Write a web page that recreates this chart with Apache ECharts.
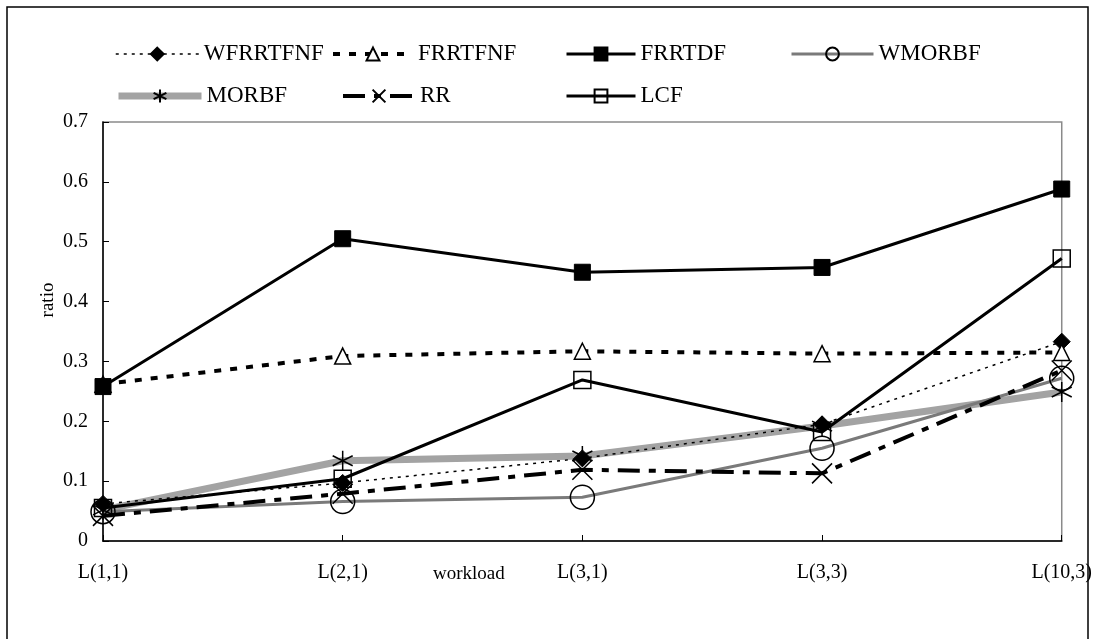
<!DOCTYPE html>
<html>
<head>
<meta charset="utf-8">
<script src="https://cdn.jsdelivr.net/npm/echarts@6/dist/echarts.min.js"></script>
<style>
html,body{margin:0;padding:0;background:#fff;}
#chart{width:1095px;height:639px;}
</style>
</head>
<body>
<div id="chart"></div>
<script>
const categories = ['L(1,1)', 'L(2,1)', 'L(3,1)', 'L(3,3)', 'L(10,3)'];
const yTicks = [0, 0.1, 0.2, 0.3, 0.4, 0.5, 0.6, 0.7];
const WFRRTFNF = [0.062, 0.097, 0.138, 0.195, 0.333];
const FRRTFNF  = [0.262, 0.309, 0.317, 0.313, 0.315];
const FRRTDF   = [0.258, 0.505, 0.449, 0.457, 0.588];
const WMORBF   = [0.049, 0.066, 0.073, 0.155, 0.272];
const MORBF    = [0.052, 0.134, 0.142, 0.192, 0.249];
const RR       = [0.042, 0.079, 0.119, 0.113, 0.285];
const LCF      = [0.055, 0.104, 0.269, 0.182, 0.472];

const FONT = 'Liberation Serif';
const ASTER = 'path://M10,0L10,20M1.34,5L18.66,15M1.34,15L18.66,5';
const XMARK = 'path://M0,0L20,20M0,20L20,0';

function legend(name, left, top, w) {
  return {
    data: [name], left: left, top: top, padding: 0,
    itemWidth: w, itemHeight: 16, itemGap: 0,
    lineStyle: {width: 'inherit'},
    textStyle: {fontFamily: FONT, fontSize: 23, color: '#000', lineHeight: 24, padding: [0,0,0,0]}
  };
}

const chart = echarts.init(document.getElementById('chart'), null, {renderer: 'canvas'});
chart.setOption({
  animation: false,
  backgroundColor: '#fff',
  legend: [
    legend('WFRRTFNF', 115, 42, 83),
    legend('FRRTFNF', 331, 42, 80),
    legend('FRRTDF', 565, 42, 69),
    legend('WMORBF', 790, 42, 82),
    legend('MORBF', 115, 84, 83),
    legend('RR', 341, 84, 72),
    legend('LCF', 565, 84, 69)
  ],
  grid: {left: 103, right: 31, top: 122, bottom: 98, show: true, borderColor: '#8a8a8a', borderWidth: 1.5, backgroundColor: 'transparent'},
  xAxis: {
    type: 'category', data: categories, boundaryGap: false,
    axisLine: {lineStyle: {color: '#000', width: 1.5}},
    axisTick: {inside: true, length: 6, lineStyle: {color: '#000'}},
    axisLabel: {fontFamily: FONT, fontSize: 20, color: '#000', margin: 22}
  },
  yAxis: {
    type: 'value', min: 0, max: 0.7, interval: 0.1,
    splitLine: {show: false},
    axisLine: {show: true, lineStyle: {color: '#000', width: 1.5}},
    axisTick: {show: true, inside: true, length: 6, lineStyle: {color: '#000'}},
    axisLabel: {fontFamily: FONT, fontSize: 20, color: '#000', margin: 15,
      formatter: v => { const t = yTicks.find(k => Math.abs(k - v) < 1e-9); return t === 0 ? '0' : (t !== undefined ? t.toFixed(1) : ''); }}
  },
  graphic: [
    {type: 'rect', shape: {x: 7, y: 7, width: 1081, height: 660}, style: {fill: 'none', stroke: '#000', lineWidth: 1.5}, silent: true},
    {type: 'text', left: 433, top: 565, style: {text: 'workload', font: '19px "Liberation Serif"', fill: '#000'}},
    {type: 'text', x: 48, y: 300, rotation: Math.PI / 2, style: {text: 'ratio', font: '19px "Liberation Serif"', fill: '#000', textAlign: 'center', textVerticalAlign: 'middle'}}
  ],
  series: [
    {name: 'MORBF', type: 'line', data: MORBF, symbol: ASTER, symbolSize: 20,
      lineStyle: {color: '#a3a3a3', width: 7},
      itemStyle: {color: '#000', borderColor: '#000', borderWidth: 1.5}},
    {name: 'WMORBF', type: 'line', data: WMORBF, symbol: 'circle', symbolSize: 24,
      lineStyle: {color: '#7a7a7a', width: 3},
      itemStyle: {color: 'rgba(255,255,255,0)', borderColor: '#000', borderWidth: 1.5}},
    {name: 'RR', type: 'line', data: RR, symbol: XMARK, symbolSize: 20,
      lineStyle: {color: '#000', width: 4, type: [22, 9, 7, 9]},
      itemStyle: {color: '#000', borderColor: '#000', borderWidth: 1.5}},
    {name: 'WFRRTFNF', type: 'line', data: WFRRTFNF, symbol: 'diamond', symbolSize: 17,
      lineStyle: {color: '#000', width: 1.5, type: [3, 5]},
      itemStyle: {color: '#000', borderColor: '#000', borderWidth: 1}},
    {name: 'FRRTFNF', type: 'line', data: FRRTFNF, symbol: 'triangle', symbolSize: 16,
      lineStyle: {color: '#000', width: 4, type: [7, 9]},
      itemStyle: {color: '#fff', borderColor: '#000', borderWidth: 1.5}},
    {name: 'LCF', type: 'line', data: LCF, symbol: 'rect', symbolSize: 17,
      lineStyle: {color: '#000', width: 3},
      itemStyle: {color: 'rgba(255,255,255,0)', borderColor: '#000', borderWidth: 1.5}},
    {name: 'FRRTDF', type: 'line', data: FRRTDF, symbol: 'rect', symbolSize: 16,
      lineStyle: {color: '#000', width: 3},
      itemStyle: {color: '#000', borderColor: '#000', borderWidth: 1}}
  ]
});
</script>
</body>
</html>
